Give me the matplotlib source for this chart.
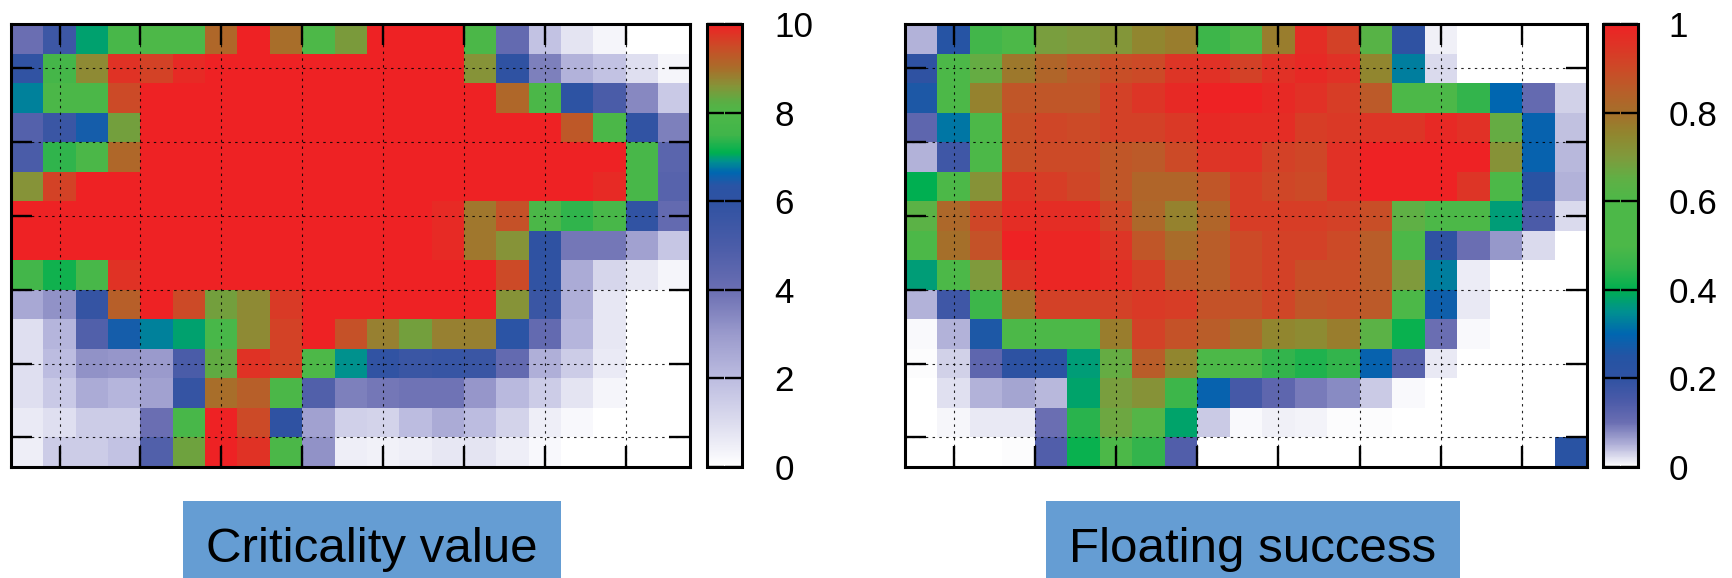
import matplotlib
matplotlib.use("Agg")
import matplotlib.pyplot as plt
from matplotlib.colors import LinearSegmentedColormap
from matplotlib.patches import Rectangle

plt.rcParams['font.family'] = ['Liberation Sans', 'DejaVu Sans']

# Criticality value, top row first (21 columns, 15 rows)
criticality = [
    [4.0, 5.5, 7.0, 7.8, 8.0, 8.0, 9.1, 10, 9.0, 8.0, 8.5, 10, 10, 10, 7.9, 4.2, 1.8, 0.8, 0.3, 0, 0],
    [5.9, 7.7, 8.7, 9.8, 9.6, 9.9, 10, 10, 10, 10, 10, 10, 10, 10, 8.6, 6.0, 3.6, 2.3, 1.8, 0.9, 0.3],
    [6.8, 7.9, 7.9, 9.5, 10, 10, 10, 10, 10, 10, 10, 10, 10, 10, 10, 9.1, 7.9, 6.1, 5.0, 3.4, 1.6],
    [4.7, 5.6, 6.5, 8.45, 10, 10, 10, 10, 10, 10, 10, 10, 10, 10, 10, 10, 10, 9.3, 7.9, 5.9, 3.6],
    [5.0, 7.4, 7.9, 9.1, 10, 10, 10, 10, 10, 10, 10, 10, 10, 10, 10, 10, 10, 10, 10, 7.8, 4.5],
    [8.6, 9.6, 10, 10, 10, 10, 10, 10, 10, 10, 10, 10, 10, 10, 10, 10, 10, 10, 9.9, 7.8, 4.6],
    [10, 10, 10, 10, 10, 10, 10, 10, 10, 10, 10, 10, 10, 9.9, 8.9, 9.4, 7.9, 7.4, 7.8, 5.9, 4.2],
    [10, 10, 10, 10, 10, 10, 10, 10, 10, 10, 10, 10, 10, 9.9, 8.9, 8.6, 6.0, 3.8, 3.8, 2.8, 1.7],
    [7.6, 7.2, 7.8, 9.8, 10, 10, 10, 10, 10, 10, 10, 10, 10, 10, 10, 9.5, 5.9, 2.5, 1.2, 0.7, 0.3],
    [2.6, 3.2, 5.8, 9.2, 10, 9.5, 8.45, 8.7, 9.7, 10, 10, 10, 10, 10, 10, 8.6, 5.6, 2.4, 0.7, 0, 0],
    [0.9, 2.2, 4.8, 6.5, 6.8, 7.0, 7.8, 8.7, 9.6, 10, 9.4, 8.8, 8.45, 8.8, 8.8, 6.3, 4.2, 2.2, 0.7, 0, 0],
    [0.9, 2.0, 3.2, 3.1, 3.0, 5.0, 8.3, 9.8, 9.6, 8.0, 6.9, 5.9, 5.6, 5.7, 5.6, 4.2, 2.4, 1.5, 0.6, 0, 0],
    [0.9, 1.6, 2.5, 2.2, 2.8, 5.8, 9.0, 9.2, 7.9, 4.8, 3.6, 3.8, 3.9, 3.9, 3.1, 2.1, 1.5, 0.8, 0.3, 0, 0],
    [0.6, 0.9, 1.5, 1.5, 4.0, 7.8, 10, 9.5, 6.0, 2.8, 1.4, 1.3, 2.0, 2.5, 2.0, 1.3, 0.5, 0.2, 0, 0, 0],
    [0.5, 1.5, 1.5, 1.8, 4.8, 8.4, 10, 9.8, 7.9, 3.2, 0.5, 0.4, 0.5, 0.7, 0.8, 0.5, 0.2, 0, 0, 0, 0],
]

# Floating success, top row first
floating = [
    [.05, .24, .48, .55, .69, .70, .71, .75, .77, .47, .55, .77, .97, .92, .63, .20, .01, 0, 0, 0, 0],
    [.20, .57, .66, .78, .83, .86, .89, .90, .95, .96, .92, .96, .98, .96, .75, .33, .025, 0, 0, 0, 0],
    [.26, .55, .76, .87, .87, .87, .92, .95, .98, 1, 1, .98, .96, .93, .86, .60, .50, .45, .30, .11, .03],
    [.12, .32, .55, .89, .91, .90, .92, .92, .94, .98, .97, .97, .93, .94, .95, .95, .98, .96, .66, .29, .04],
    [.05, .17, .52, .89, .90, .90, .87, .86, .90, .95, .96, .92, .91, .96, 1, 1, 1, 1, .72, .29, .045],
    [.40, .53, .72, .95, .93, .91, .87, .83, .83, .87, .93, .91, .90, .96, 1, 1, 1, .95, .50, .23, .05],
    [.64, .82, .91, .97, .97, .97, .91, .82, .76, .83, .93, .93, .93, .92, .89, .65, .52, .50, .37, .15, .025],
    [.56, .80, .88, 1, .99, .99, .95, .87, .81, .85, .90, .92, .92, .90, .85, .50, .20, .10, .07, .025, 0],
    [.37, .58, .70, .95, .99, .99, .97, .93, .86, .85, .90, .92, .89, .89, .85, .70, .33, .012, 0, 0, 0],
    [.05, .17, .47, .80, .92, .92, .92, .94, .93, .88, .88, .91, .87, .88, .86, .58, .28, .015, 0, 0, 0],
    [.005, .05, .26, .50, .52, .52, .77, .92, .88, .85, .81, .75, .74, .77, .64, .41, .10, .005, 0, 0, 0],
    [.002, .03, .12, .21, .22, .37, .66, .85, .75, .55, .55, .45, .43, .45, .29, .13, .015, 0, 0, 0, 0],
    [0, .02, .05, .06, .045, .38, .69, .72, .47, .29, .16, .12, .09, .08, .035, .005, 0, 0, 0, 0, 0],
    [0, .007, .015, .015, .10, .44, .67, .62, .38, .035, .005, .01, .008, .003, .003, 0, 0, 0, 0, 0, 0],
    [0, 0, 0, .002, .14, .41, .50, .45, .14, 0, 0, 0, 0, 0, 0, 0, 0, 0, 0, 0, .23],
]

x_ticks = [1.5, 4, 6.5, 9, 11.5, 14, 16.5, 19]
y_ticks = [1.5, 4, 6.5, 9, 11.5, 14]

crit_ticks = [0, 2, 4, 6, 8, 10]
crit_labels = ['0', '2', '4', '6', '8', '10']
float_ticks = [0, 0.2, 0.4, 0.6, 0.8, 1]
float_labels = ['0', '0.2', '0.4', '0.6', '0.8', '1']

# gnuplot style palettes
crit_colors = [(0, '#ffffff'), (1, '#dcdcee'), (2, '#bcbce0'), (3, '#9a9acc'), (4, '#6a6eb2'),
               (5, '#4a5ca8'), (6, '#2f52a2'), (6.35, '#2a54a5'), (6.65, '#0066b0'), (6.9, '#009090'),
               (7.1, '#00b050'), (7.5, '#40b54a'), (8, '#4db848'), (8.25, '#5aae44'), (8.6, '#859438'),
               (9, '#a86e2a'), (9.5, '#cb4b27'), (10, '#ee2224')]
float_colors = [(0, '#ffffff'), (.05, '#b0b0d8'), (.1, '#6a6eb2'), (.15, '#4a5aa8'), (.2, '#2f52a2'),
                (.25, '#2454a4'), (.3, '#0066b0'), (.35, '#009090'), (.4, '#00b050'), (.45, '#33b44c'),
                (.5, '#4cb848'), (.6, '#4cb848'), (.65, '#5fb045'), (.7, '#7f9a3c'), (.75, '#90872f'),
                (.8, '#a56f2a'), (.85, '#b85e29'), (.9, '#cc4a27'), (.95, '#dd3526'), (1, '#ee2224')]

W, H = 1733, 578


def make_cmap(name, colors, vmax):
    return LinearSegmentedColormap.from_list(name, [(v / vmax, c) for v, c in colors], N=512)


def px_axes(fig, left, right, top, bottom):
    return fig.add_axes([left / W, 1 - bottom / H, (right - left) / W, (bottom - top) / H])


def panel(fig, data, cmap, vmax, ax_x, cb_x, ticks, labels, pad):
    ax = px_axes(fig, ax_x[0], ax_x[1], 24, 467)
    mesh = ax.pcolormesh(range(22), range(16), data, cmap=cmap, vmin=0, vmax=vmax)
    ax.set_xlim(0, 21)
    ax.set_ylim(15, 0)
    ax.set_xticks(x_ticks)
    ax.set_yticks(y_ticks)
    ax.tick_params(direction='in', top=True, right=True, length=15, width=1.7,
                   labelbottom=False, labelleft=False)
    ax.grid(True, color='black', lw=0.8, alpha=0.85, linestyle=(0, (2.2, 3.9)))
    for s in ax.spines.values():
        s.set_linewidth(2.2)

    cax = px_axes(fig, cb_x[0], cb_x[1], 24, 467)
    cb = fig.colorbar(mesh, cax=cax)
    cb.set_ticks(ticks)
    cb.set_ticklabels(labels)
    cb.outline.set_linewidth(2.2)
    cax.tick_params(direction='in', left=True, right=True, length=12, width=1.7,
                    labelsize=25.2, pad=pad)
    return ax


def label_box(fig, text, left, right, baseline):
    fig.add_artist(Rectangle((left / W, 0), (right - left) / W, (H - 501) / H,
                             transform=fig.transFigure, facecolor='#659dd3', edgecolor='none'))
    fig.text((left + right) / 2 / W, 1 - baseline / H, text, fontsize=35.5, color='black',
             ha='center', va='baseline')


def main():
    fig = plt.figure(figsize=(W / 100, H / 100), dpi=100)

    panel(fig, criticality, make_cmap('crit', crit_colors, 10), 10,
          (11, 690.5), (707.5, 742), crit_ticks, crit_labels, 23.5)
    panel(fig, floating, make_cmap('float', float_colors, 1), 1,
          (905, 1587), (1603, 1638), float_ticks, float_labels, 22)

    label_box(fig, 'Criticality value', 183, 561, 562)
    label_box(fig, 'Floating success', 1046, 1460, 562)

    fig.savefig('out.png', dpi=100)


if __name__ == "__main__":
    main()
